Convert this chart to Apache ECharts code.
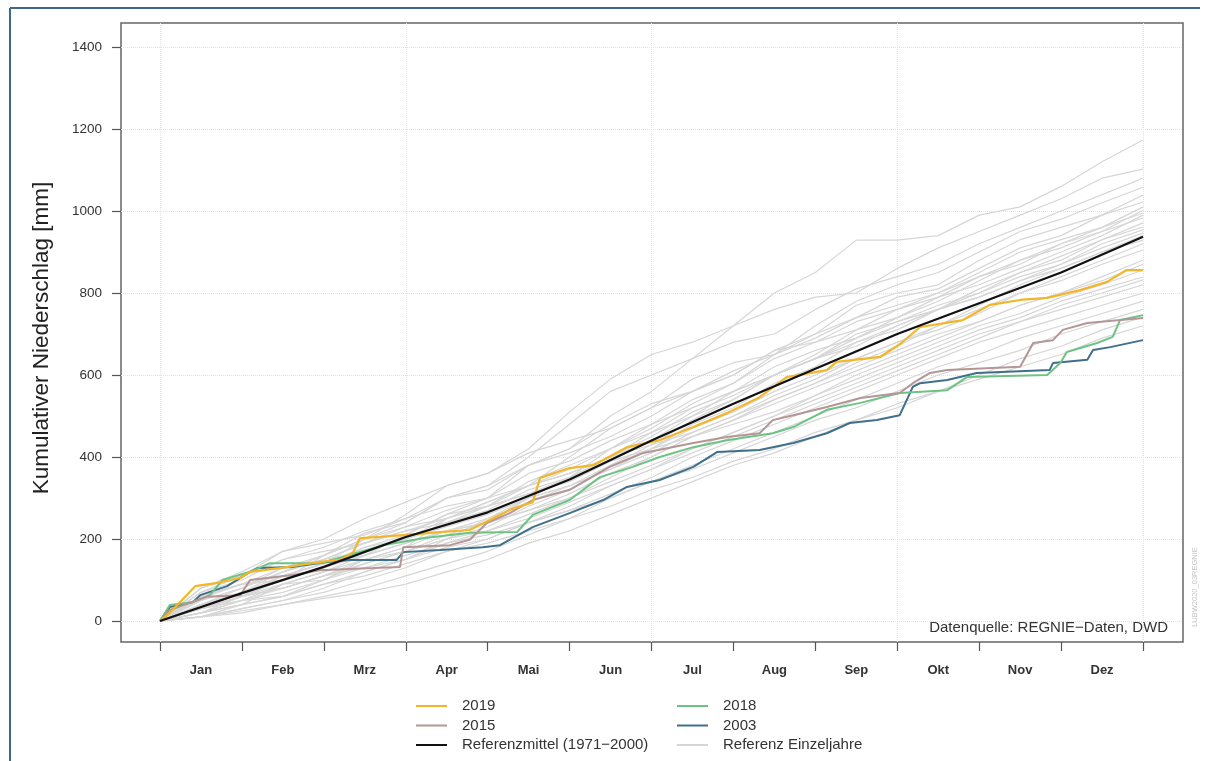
<!DOCTYPE html>
<html>
<head>
<meta charset="utf-8">
<script src="https://cdn.jsdelivr.net/npm/echarts@6/dist/echarts.min.js"></script>
<style>
  html, body { margin: 0; padding: 0; background: #fff; }
  #chart { width: 1210px; height: 761px; }
</style>
</head>
<body>
<div id="chart"></div>
<script>
// Monate und Achsen
const months = ["Jan", "Feb", "Mrz", "Apr", "Mai", "Jun", "Jul", "Aug", "Sep", "Okt", "Nov", "Dez"];
const monthTicks = [0, 1, 2, 3, 4, 5, 6, 7, 8, 9, 10, 11, 12];
const monthLabelPos = [0.5, 1.5, 2.5, 3.5, 4.5, 5.5, 6.5, 7.5, 8.5, 9.5, 10.5, 11.5];
const quarterGrid = [0, 3, 6, 9, 12];
const yTicks = [0, 200, 400, 600, 800, 1000, 1200, 1400];

// Referenzmittel 1971-2000, kumuliert zu Monatsbeginn (Monat 0..12)
const refMittel = [0, 68, 132, 205, 265, 345, 440, 530, 615, 700, 775, 850, 937];

// Referenz Einzeljahre, kumuliert je halben Monat (0, 0.5, ... 12)
const refEinzeljahre = [
  [0, 55, 90, 100, 160, 215, 240, 300, 330, 400, 480, 560, 600, 640, 720, 800, 850, 929, 929, 940, 990, 1010, 1060, 1120, 1173],
  [0, 20, 60, 110, 140, 200, 260, 330, 360, 420, 510, 590, 650, 680, 720, 760, 790, 800, 860, 910, 950, 990, 1030, 1080, 1102],
  [0, 70, 110, 170, 190, 210, 250, 300, 320, 380, 420, 500, 560, 640, 680, 700, 760, 810, 840, 870, 920, 960, 1000, 1040, 1080],
  [0, 30, 50, 60, 100, 150, 180, 250, 290, 330, 400, 470, 520, 590, 630, 650, 720, 780, 820, 850, 900, 950, 980, 1020, 1058],
  [0, 40, 70, 120, 160, 200, 240, 300, 330, 380, 410, 450, 500, 560, 600, 660, 700, 770, 800, 820, 880, 930, 960, 990, 1039],
  [0, 60, 90, 100, 130, 180, 200, 250, 280, 340, 380, 420, 480, 540, 580, 650, 700, 740, 790, 810, 860, 910, 940, 990, 1022],
  [0, 10, 40, 90, 120, 160, 210, 260, 300, 380, 420, 480, 530, 560, 610, 650, 690, 740, 770, 800, 850, 900, 930, 960, 1010],
  [0, 80, 120, 170, 200, 250, 290, 330, 360, 410, 440, 470, 520, 560, 600, 660, 680, 730, 760, 790, 840, 880, 920, 950, 1002],
  [0, 30, 60, 80, 110, 140, 170, 200, 250, 300, 350, 420, 470, 530, 580, 640, 680, 710, 760, 800, 840, 870, 920, 960, 995],
  [0, 50, 80, 130, 150, 190, 230, 250, 290, 330, 370, 420, 460, 500, 560, 620, 660, 690, 740, 790, 820, 860, 900, 940, 990],
  [0, 70, 100, 150, 170, 190, 220, 240, 280, 330, 360, 400, 460, 520, 560, 600, 650, 710, 740, 780, 830, 880, 910, 950, 983],
  [0, 20, 50, 90, 100, 140, 170, 210, 240, 300, 330, 370, 420, 480, 520, 580, 620, 680, 710, 760, 800, 850, 890, 930, 971],
  [0, 40, 70, 110, 140, 180, 210, 260, 280, 310, 350, 400, 440, 500, 540, 600, 640, 700, 730, 760, 810, 850, 880, 930, 961],
  [0, 60, 90, 130, 160, 200, 230, 270, 300, 360, 390, 440, 480, 520, 560, 600, 640, 670, 720, 760, 790, 830, 870, 920, 954],
  [0, 10, 30, 50, 80, 120, 150, 200, 230, 280, 320, 380, 430, 490, 540, 600, 640, 690, 730, 770, 800, 840, 870, 910, 946],
  [0, 40, 80, 120, 150, 170, 200, 230, 260, 300, 330, 370, 410, 460, 500, 550, 590, 640, 680, 720, 770, 820, 860, 900, 940],
  [0, 30, 60, 100, 130, 170, 200, 240, 270, 320, 350, 400, 450, 510, 550, 600, 640, 680, 720, 760, 790, 830, 860, 900, 929],
  [0, 80, 110, 150, 180, 220, 250, 280, 300, 330, 360, 400, 430, 460, 500, 540, 580, 630, 670, 720, 760, 800, 840, 880, 920],
  [0, 20, 50, 80, 110, 150, 180, 220, 250, 290, 330, 380, 420, 470, 510, 560, 600, 640, 680, 710, 750, 800, 830, 870, 905],
  [0, 40, 70, 100, 130, 160, 190, 220, 240, 270, 310, 360, 400, 450, 490, 530, 570, 610, 650, 690, 730, 770, 800, 840, 880],
  [0, 20, 40, 60, 90, 120, 150, 190, 220, 260, 300, 350, 400, 450, 490, 540, 580, 620, 660, 700, 730, 770, 800, 830, 870],
  [0, 50, 80, 120, 150, 190, 220, 250, 280, 310, 340, 390, 420, 450, 480, 510, 550, 600, 640, 680, 720, 750, 790, 820, 856],
  [0, 30, 60, 90, 120, 150, 170, 200, 220, 250, 290, 330, 370, 420, 460, 500, 550, 590, 630, 670, 710, 740, 780, 810, 839],
  [0, 10, 30, 50, 70, 100, 130, 170, 200, 240, 280, 330, 370, 410, 450, 490, 530, 570, 610, 650, 690, 730, 770, 800, 832],
  [0, 60, 90, 110, 140, 160, 190, 220, 240, 270, 300, 340, 380, 420, 460, 500, 540, 580, 620, 660, 700, 730, 760, 790, 820],
  [0, 30, 50, 70, 100, 130, 150, 180, 200, 240, 270, 310, 350, 400, 440, 480, 520, 560, 600, 640, 680, 710, 740, 770, 800],
  [0, 10, 20, 40, 60, 80, 110, 140, 170, 210, 250, 300, 340, 380, 420, 460, 500, 540, 580, 620, 650, 690, 720, 750, 780],
  [0, 30, 60, 80, 110, 130, 160, 190, 210, 240, 270, 300, 340, 370, 410, 450, 490, 520, 560, 600, 630, 660, 700, 730, 760],
  [0, 20, 40, 60, 90, 110, 140, 170, 190, 220, 250, 280, 320, 350, 390, 420, 460, 490, 530, 560, 600, 640, 670, 710, 741],
  [0, 10, 25, 40, 55, 70, 90, 120, 150, 190, 220, 260, 300, 340, 380, 410, 450, 490, 520, 560, 590, 620, 650, 690, 720]
];

// Einzeljahre [Monat, mm]
const jahr2019 = [[0, 0], [0.12, 20], [0.43, 85], [0.70, 93], [0.98, 105], [1.10, 120], [1.46, 129], [1.95, 144], [2.20, 149], [2.36, 168], [2.44, 202], [2.69, 205], [3.42, 217], [3.78, 222], [4.27, 271], [4.55, 290], [4.64, 349], [5.0, 373], [5.29, 380], [5.70, 424], [6.10, 441], [6.51, 473], [6.92, 507], [7.32, 546], [7.65, 595], [8.14, 612], [8.26, 632], [8.79, 644], [9.03, 675], [9.28, 717], [9.80, 734], [10.13, 771], [10.50, 783], [10.83, 788], [11.23, 807], [11.56, 827], [11.80, 856], [12, 856]];
const jahr2018 = [[0, 0], [0.12, 39], [0.40, 46], [0.61, 63], [0.76, 100], [1.10, 120], [1.34, 141], [1.95, 141], [2.23, 156], [2.72, 185], [3.21, 202], [3.78, 215], [4.36, 217], [4.55, 259], [5.0, 295], [5.37, 351], [5.77, 376], [6.10, 400], [6.51, 424], [6.92, 441], [7.48, 458], [7.73, 473], [8.14, 515], [8.55, 532], [9.03, 556], [9.61, 563], [9.85, 595], [10.83, 600], [10.99, 629], [11.07, 656], [11.44, 678], [11.63, 693], [11.72, 734], [12, 746]];
const jahr2015 = [[0, 0], [0.12, 27], [0.57, 59], [0.98, 63], [1.10, 100], [1.62, 112], [1.95, 124], [2.60, 129], [2.93, 132], [2.97, 180], [3.54, 185], [3.78, 198], [3.99, 239], [4.27, 263], [4.55, 295], [5.0, 320], [5.49, 376], [5.90, 410], [6.51, 434], [6.92, 449], [7.32, 458], [7.48, 490], [7.73, 502], [8.14, 522], [8.55, 544], [9.03, 556], [9.19, 580], [9.40, 605], [9.61, 612], [10.50, 620], [10.66, 678], [10.90, 685], [11.02, 710], [11.32, 727], [12, 739]];
const jahr2003 = [[0, 0], [0.12, 34], [0.40, 46], [0.49, 63], [0.82, 85], [1.10, 120], [1.19, 129], [1.63, 132], [2.04, 144], [2.32, 149], [2.89, 149], [2.97, 168], [3.42, 173], [3.94, 180], [4.15, 185], [4.55, 229], [5.0, 263], [5.41, 295], [5.70, 327], [6.10, 344], [6.51, 376], [6.80, 412], [7.32, 417], [7.73, 434], [8.14, 458], [8.42, 483], [8.75, 490], [9.03, 502], [9.19, 571], [9.28, 580], [9.61, 588], [9.97, 605], [10.86, 612], [10.90, 629], [11.32, 637], [11.39, 661], [11.60, 668], [12, 685]];

const FONT = "'Liberation Sans', Arial, sans-serif";
const chart = echarts.init(document.getElementById("chart"));

const series = [];
refEinzeljahre.forEach(function (jahr) {
  series.push({
    name: "Referenz Einzeljahre",
    type: "line",
    data: jahr.map(function (v, i) { return [i / 2, v]; }),
    symbol: "none",
    silent: true,
    color: "#d6d6d6",
    lineStyle: { width: 1.2, color: "#d6d6d6" }
  });
});
function jahrSerie(name, data, color, width) {
  return {
    name: name,
    type: "line",
    data: data,
    symbol: "none",
    color: color,
    lineStyle: { width: width, color: color }
  };
}
series.push(jahrSerie("2003", jahr2003, "#3f6f8a", 2));
series.push(jahrSerie("2018", jahr2018, "#6cc384", 2));
series.push(jahrSerie("2015", jahr2015, "#b59696", 2));
series.push(jahrSerie("2019", jahr2019, "#f2b62a", 2.2));
series.push(jahrSerie("Referenzmittel (1971\u22122000)", refMittel.map(function (v, m) { return [m, v]; }), "#111111", 2.2));

const legendBase = {
  orient: "vertical",
  top: 698,
  padding: 0,
  itemGap: 3.5,
  itemWidth: 31,
  itemHeight: 2,
  icon: "rect",
  selectedMode: false,
  textStyle: { fontFamily: FONT, fontSize: 15, color: "#333", lineHeight: 16, padding: [0, 0, 0, 10] }
};

const option = {
  animation: false,
  backgroundColor: "#fff",
  grid: {
    left: 121, top: 23, right: 27, bottom: 119,
    show: true, borderColor: "#666", borderWidth: 1.5, backgroundColor: "transparent"
  },
  legend: [
    Object.assign({}, legendBase, { left: 416, data: ["2019", "2015", "Referenzmittel (1971\u22122000)"] }),
    Object.assign({}, legendBase, { left: 677, data: ["2018", "2003", "Referenz Einzeljahre"] })
  ],
  xAxis: [
    {
      type: "value", min: -0.476, max: 12.488, position: "bottom",
      axisLine: { show: false, onZero: false },
      axisTick: { show: true, length: 9, lineStyle: { color: "#555", width: 1.2 }, customValues: monthTicks },
      axisLabel: {
        customValues: monthLabelPos, margin: 22,
        fontFamily: FONT, fontSize: 13, fontWeight: "bold", color: "#333",
        formatter: function (v) { return months[Math.floor(v)]; }
      },
      splitLine: { show: false }
    },
    {
      type: "value", min: -0.476, max: 12.488, position: "bottom",
      axisLine: { show: false, onZero: false },
      axisTick: { show: false, customValues: quarterGrid },
      axisLabel: { show: false },
      splitLine: { show: true, lineStyle: { type: "dotted", color: "#e3e3e3", width: 1 } }
    }
  ],
  yAxis: {
    type: "value", min: -51.2, max: 1458.5, splitNumber: 7, position: "left",
    axisLine: { show: false, onZero: false },
    axisTick: { show: true, length: 9, lineStyle: { color: "#555", width: 1.2 }, customValues: yTicks },
    axisLabel: {
      customValues: yTicks, margin: 19,
      fontFamily: FONT, fontSize: 13.5, color: "#333",
      formatter: function (v) { return v % 200 === 0 ? String(v) : ""; }
    },
    splitLine: { show: true, lineStyle: { type: "dotted", color: "#e3e3e3", width: 1 } }
  },
  graphic: [
    { type: "line", silent: true, shape: { x1: 10, y1: 8, x2: 1200, y2: 8 }, style: { stroke: "#3d6a88", lineWidth: 2 } },
    { type: "line", silent: true, shape: { x1: 10, y1: 8, x2: 10, y2: 761 }, style: { stroke: "#3d6a88", lineWidth: 2 } },
    {
      type: "text", x: 42, y: 338, rotation: Math.PI / 2, silent: true,
      style: { text: "Kumulativer Niederschlag [mm]", font: "22.5px " + FONT, fill: "#222", align: "center", verticalAlign: "middle" }
    },
    {
      type: "text", x: 1168, y: 628, silent: true,
      style: { text: "Datenquelle: REGNIE\u2212Daten, DWD", font: "15px " + FONT, fill: "#333", align: "right", verticalAlign: "middle" }
    },
    {
      type: "text", x: 1195, y: 587, rotation: Math.PI / 2, silent: true,
      style: { text: "LUBW2020_03REGNIE", font: "7.5px " + FONT, fill: "#c4c4c4", align: "center", verticalAlign: "middle" }
    }
  ],
  series: series
};

chart.setOption(option);
</script>
</body>
</html>
